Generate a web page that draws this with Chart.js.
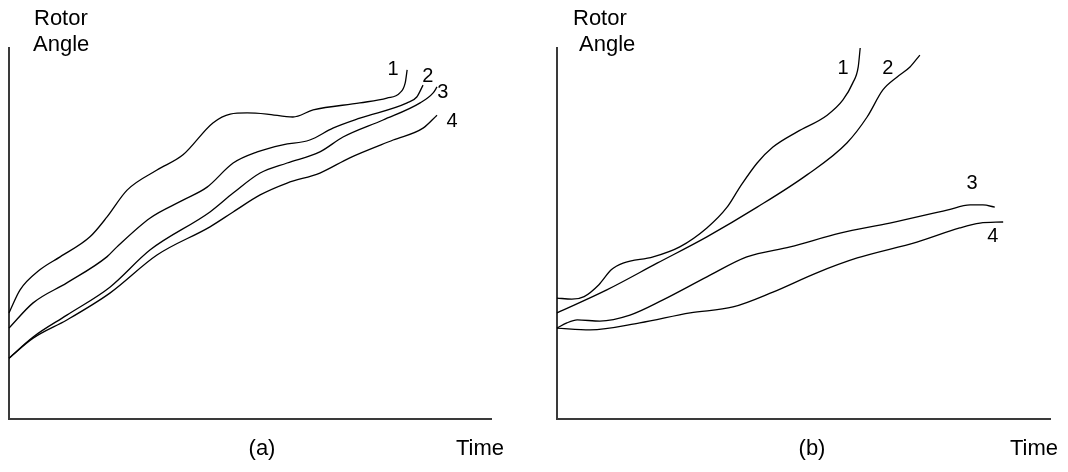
<!DOCTYPE html>
<html>
<head>
<meta charset="utf-8">
<script src="https://cdn.jsdelivr.net/npm/chart.js@4.4.1/dist/chart.umd.min.js"></script>
<style>
  body { margin: 0; background: #fff; }
  .panel { position: absolute; top: 0; height: 472px; }
  #wrap-a { left: 0; width: 534px; }
  #wrap-b { left: 534px; width: 534px; }
</style>
</head>
<body>
<div class="panel" id="wrap-a"><canvas id="chart-a"></canvas></div>
<div class="panel" id="wrap-b"><canvas id="chart-b"></canvas></div>
<script>
// rotor angle curves, time and angle both on a 0-100 scale

// (a) four swing curves
const aTime1  = [0, 2.3, 6.4, 10.6, 16.8, 20.3, 24.5, 30.7, 36.1, 42.3, 45.9, 49.4, 53.5, 58.9, 63.1, 72.8, 78.4, 81.1, 82.2, 82.6];
const aAngle1 = [28.6, 34.8, 40.2, 43.7, 49.1, 54.4, 61.7, 67.1, 71.2, 79.8, 82.2, 82.5, 82.2, 81.4, 83.3, 85.2, 86.5, 87.9, 90.6, 94.1];
const aTime2  = [0, 5.0, 12.0, 20.3, 22.4, 29.3, 36.1, 41.1, 46.5, 51.5, 56.8, 62.4, 67.2, 72.8, 82.6, 84.6, 85.9];
const aAngle2 = [24.5, 31.3, 36.7, 43.7, 46.4, 54.2, 59.0, 62.5, 69.0, 72.0, 73.9, 75.2, 78.4, 81.1, 85.2, 86.8, 90.0];
const aTime3  = [0, 5.0, 12.0, 21.0, 29.3, 41.7, 46.5, 52.1, 57.7, 64.5, 69.3, 77.6, 85.3, 88.0, 88.8];
const aAngle3 = [16.4, 22.1, 28.0, 35.6, 45.6, 55.8, 60.9, 66.3, 69.0, 72.0, 76.0, 80.6, 85.2, 87.9, 89.5];
const aTime4  = [0, 5.0, 12.0, 21.0, 30.7, 41.7, 46.5, 52.1, 57.7, 64.5, 70.7, 79.7, 85.9, 88.8];
const aAngle4 = [16.4, 21.8, 26.7, 34.0, 44.2, 51.8, 55.8, 60.4, 63.6, 66.3, 70.4, 75.2, 78.4, 81.9];

// (b) four swing curves
const bTime1  = [0, 3.0, 5.5, 8.5, 11.0, 13.4, 19.5, 24.9, 30.4, 34.5, 37.1, 40.6, 43.8, 48.7, 54.8, 58.0, 60.0, 61.1, 61.5];
const bAngle1 = [32.6, 32.3, 33.0, 36.2, 40.2, 42.0, 43.7, 46.4, 51.5, 57.1, 62.5, 69.0, 73.3, 77.4, 81.9, 86.0, 90.6, 94.9, 100];
const bTime2  = [0, 10.1, 20.3, 30.4, 40.6, 50.7, 58.8, 62.9, 66.1, 69.0, 71.6, 73.6];
const bAngle2 = [28.6, 34.8, 42.0, 49.1, 57.1, 65.8, 74.4, 81.4, 88.7, 92.2, 94.9, 98.1];
const bTime3  = [0, 2.0, 4.1, 8.7, 14.8, 21.5, 30.4, 38.5, 47.3, 57.4, 67.5, 79.1, 83.8, 86.4, 88.8];
const bAngle3 = [24.5, 25.9, 26.7, 26.4, 28.0, 32.1, 38.3, 43.7, 46.4, 50.1, 52.8, 56.3, 57.7, 57.7, 57.1];
const bTime4  = [0, 6.7, 16.8, 27.0, 35.7, 43.8, 52.7, 60.9, 73.0, 81.7, 85.8, 90.5];
const bAngle4 = [24.5, 24.0, 25.9, 28.6, 30.2, 34.2, 39.4, 43.4, 47.7, 51.5, 52.8, 53.1];

// curve numbers: [text, time, angle]
const aCurveLabels = [['1', 79.7, 94.1], ['2', 86.9, 92.2], ['3', 90.0, 88.1], ['4', 91.9, 80.1]];
const bCurveLabels = [['1', 58.0, 94.6], ['2', 67.1, 94.6], ['3', 84.2, 63.6], ['4', 88.4, 49.1]];

const yTitle = ['Rotor', 'Angle'];
const xTitle = 'Time';

const FONT = '"Liberation Sans", Arial, sans-serif';

function pairUp(xs, ys) {
    return xs.map((x, i) => ({ x: x, y: ys[i] }));
}

function curve(xs, ys) {
    return {
        data: pairUp(xs, ys),
        borderColor: '#000',
        borderWidth: 1.3,
        pointRadius: 0,
        cubicInterpolationMode: 'monotone',
        clip: false
    };
}

// text that sits around the axes plus the curve numbers
const textPlugin = {
    id: 'panelText',
    afterDraw(chart, args, opts) {
        const ctx = chart.ctx;
        const xs = chart.scales.x, ys = chart.scales.y;
        ctx.save();
        ctx.fillStyle = '#000';
        ctx.textBaseline = 'middle';

        ctx.font = '22px ' + FONT;
        ctx.textAlign = 'left';
        ctx.fillText(yTitle[0], opts.titleX[0], 19);
        ctx.fillText(yTitle[1], opts.titleX[1], 45);
        ctx.fillText(xTitle, opts.timeX, 449);
        ctx.textAlign = 'center';
        ctx.fillText(opts.tag, opts.tagX, 449);

        ctx.font = '20px ' + FONT;
        opts.numbers.forEach(([t, x, y]) => {
            ctx.fillText(t, xs.getPixelForValue(x), ys.getPixelForValue(y));
        });
        ctx.restore();
    }
};

function makePanel(canvasId, curves, pad, text) {
    const axis = {
        type: 'linear',
        min: 0,
        max: 100,
        grid: { display: false },
        ticks: { display: false },
        border: { display: true, color: '#3a3a3a', width: 2 }
    };
    return new Chart(document.getElementById(canvasId), {
        type: 'line',
        data: { datasets: curves },
        options: {
            responsive: true,
            maintainAspectRatio: false,
            animation: false,
            layout: { padding: pad },
            plugins: {
                legend: { display: false },
                tooltip: { enabled: false },
                panelText: text
            },
            scales: {
                x: Object.assign({}, axis, { afterFit(s) { s.height = 0; } }),
                y: Object.assign({}, axis, { afterFit(s) { s.width = 0; } })
            }
        },
        plugins: [textPlugin]
    });
}

makePanel('chart-a', [
    curve(aTime1, aAngle1),
    curve(aTime2, aAngle2),
    curve(aTime3, aAngle3),
    curve(aTime4, aAngle4)
], { left: 9, top: 48, right: 43, bottom: 53 }, {
    titleX: [34, 33], timeX: 456, tag: '(a)', tagX: 262, numbers: aCurveLabels
});

makePanel('chart-b', [
    curve(bTime1, bAngle1),
    curve(bTime2, bAngle2),
    curve(bTime3, bAngle3),
    curve(bTime4, bAngle4)
], { left: 23, top: 48, right: 18, bottom: 53 }, {
    titleX: [39, 45], timeX: 476, tag: '(b)', tagX: 278, numbers: bCurveLabels
});
</script>
</body>
</html>
